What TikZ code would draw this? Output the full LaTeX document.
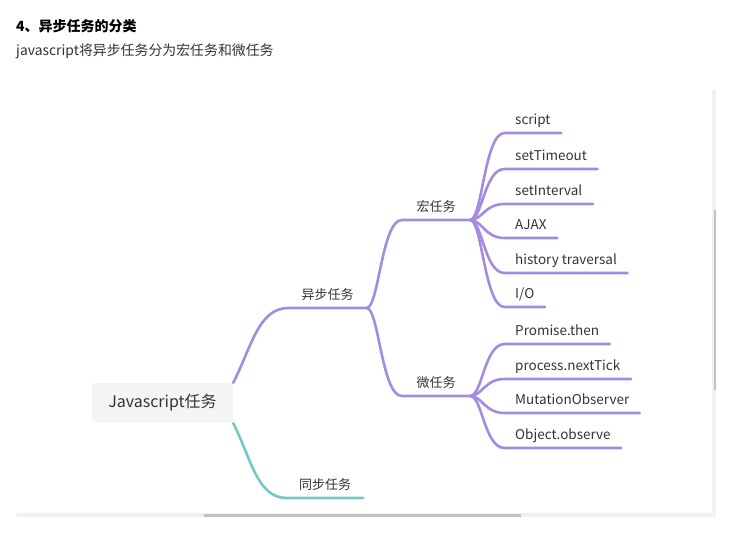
\documentclass[tikz,border=0pt]{standalone}
\usepackage{fontspec}
\setmainfont{Noto Sans CJK SC}
\definecolor{macpurple}{HTML}{A38BE0}
\definecolor{synteal}{HTML}{76C8C4}
\definecolor{txtgray}{HTML}{333333}
\definecolor{rootfill}{HTML}{F5F5F5}
\definecolor{bartrack}{HTML}{F1F1F1}
\definecolor{barthumb}{HTML}{C1C1C1}
\begin{document}
\begin{tikzpicture}[x=1pt,y=-1pt,
    topic/.style={font=\fontsize{13}{15}\selectfont,text=txtgray,text height=10pt,text depth=3pt,inner ysep=5pt,inner xsep=0pt,anchor=south},
    leaf/.style={topic,font=\fontsize{13.5}{15}\selectfont,anchor=south west,inner xsep=10.5pt},
    branch/.style={line width=2.6pt,line cap=round,macpurple},
    fork/.style={to path={.. controls ([xshift=12pt]\tikztostart) and ([xshift=-20pt]\tikztotarget) .. (\tikztotarget)}}]
  \useasboundingbox (0,0) rectangle (734,536);
  \node[anchor=west,inner sep=0pt,font=\bfseries\fontsize{14}{16}\selectfont] (title) at (16,26) {4、异步任务的分类};
  \node[anchor=west,inner sep=0pt,text=txtgray,font=\fontsize{13.9}{16}\selectfont] (intro) at (16,51) {javascript将异步任务分为宏任务和微任务};
  % scroll bars
  \fill[bartrack,rounded corners=1.5pt] (16,513) rectangle (716,517);
  \fill[barthumb] (204,514) rectangle (521,517);
  \fill[bartrack] (712,90) rectangle (716,517);
  \fill[barthumb] (714,210) rectangle (716,390);
  \node[fill=rootfill,rounded corners=3pt,minimum width=141pt,minimum height=40pt,text=txtgray,font=\fontsize{16}{18}\selectfont] (root) at (162.5,403) {Javascript任务};
  \node[topic,minimum width=78pt] (async) at (327.5,308) {异步任务};
  \node[topic,minimum width=76pt] (sync) at (325,498) {同步任务};
  \node[topic,minimum width=68pt] (macro) at (436,220) {宏任务};
  \node[topic,minimum width=68pt] (micro) at (436,396) {微任务};
  \draw[branch] (root.north east) .. controls +(18,-35) and +(-30,0) .. (async.south west) -- (async.south east);
  \draw[branch,synteal] (root.south east) .. controls +(18,35) and +(-30,0) .. (sync.south west) -- (sync.south east);
  \draw[branch] (async.south east) to[fork] (macro.south west) -- (macro.south east);
  \draw[branch] (async.south east) to[fork] (micro.south west) -- (micro.south east);
  \foreach \name/\y/\txt in {script/133/script,timeout/169/setTimeout,interval/204/setInterval,
      ajax/238/AJAX,history/273/history traversal,io/307/{I/O}}{
    \node[leaf] (\name) at (504.5,\y) {\txt};
    \draw[branch] (macro.south east) to[fork] (\name.south west) -- (\name.south east);
  }
  \foreach \name/\y/\txt in {promise/344/Promise.then,tick/379/process.nextTick,
      mutation/413/MutationObserver,observe/448/Object.observe}{
    \node[leaf] (\name) at (504.5,\y) {\txt};
    \draw[branch] (micro.south east) to[fork] (\name.south west) -- (\name.south east);
  }
\end{tikzpicture}
\end{document}
